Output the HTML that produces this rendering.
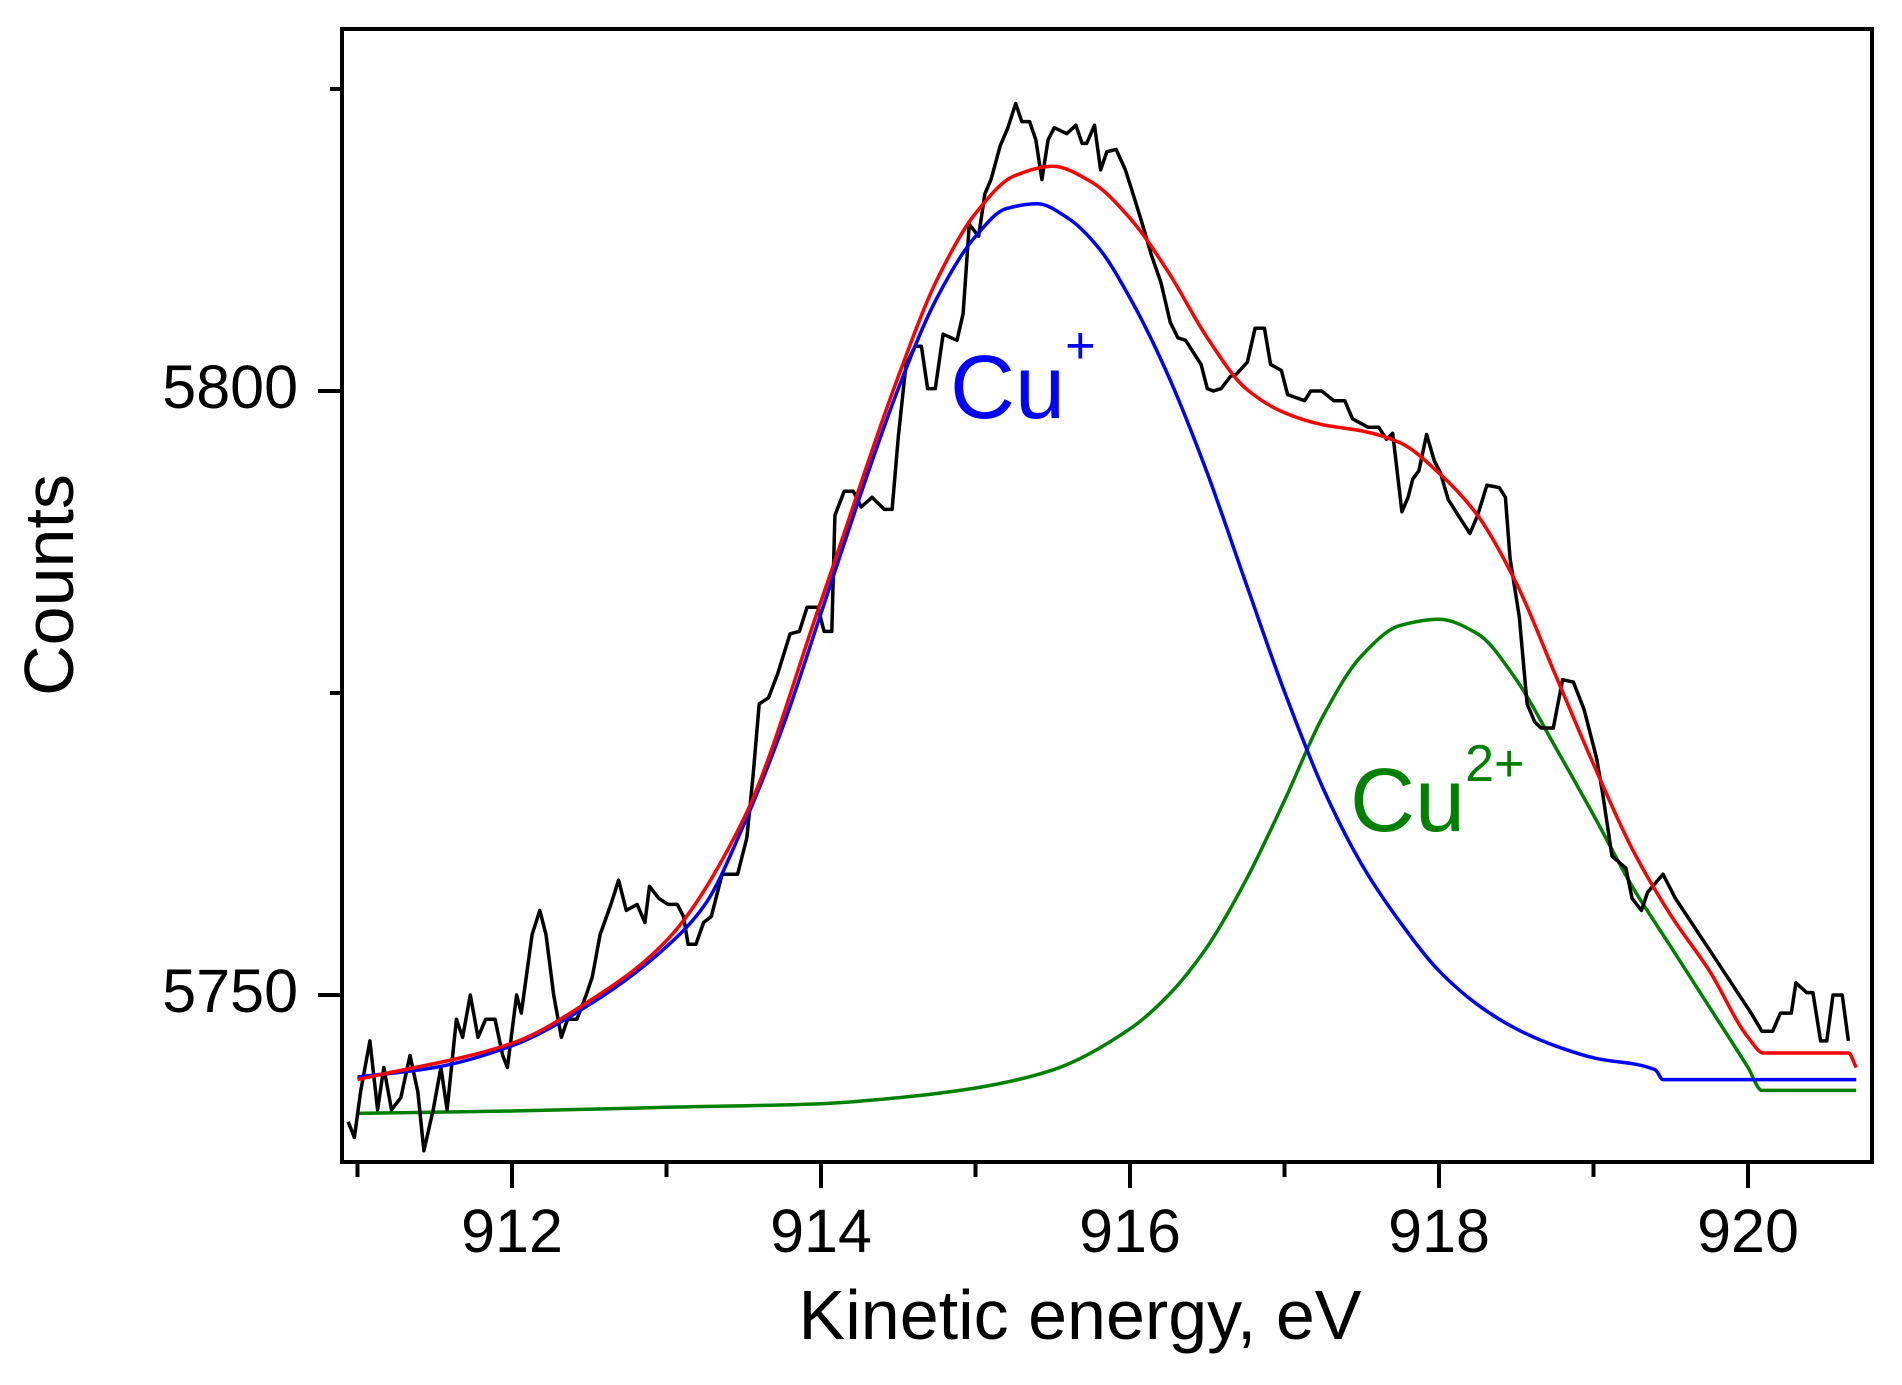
<!DOCTYPE html>
<html><head><meta charset="utf-8"><style>
html,body{margin:0;padding:0;background:#fff;}
svg{display:block;font-family:"Liberation Sans",Arial,sans-serif;}
</style></head><body>
<svg id="chart" width="1902" height="1385" viewBox="0 0 1902 1385">
<defs><clipPath id="plotclip"><rect x="344" y="31" width="1526" height="1129"/></clipPath></defs>
<g id="series" clip-path="url(#plotclip)"></g>
<rect x="342" y="29" width="1530" height="1133" fill="none" stroke="#000" stroke-width="4"/>
<g id="axes"></g>
<text x="49" y="585" font-size="70" text-anchor="middle" transform="rotate(-90 49 585)" dominant-baseline="central">Counts</text>
<text x="1080" y="1339" font-size="70" text-anchor="middle">Kinetic energy, eV</text>
<text x="950" y="418" font-size="90" fill="#0000ff">Cu<tspan font-size="52" dy="-55">+</tspan></text>
<text x="1350" y="831" font-size="90" fill="#008000">Cu<tspan font-size="52" dy="-50">2+</tspan></text>
</svg>
<script>
const xTicks=[912,914,916,918,920];
const xMinor=[911,913,915,917,919];
const yTicks=[5750,5800];
const yMinor=[5775,5825];
const expE=[910.94,910.98,911.02,911.08,911.13,911.17,911.22,911.28,911.34,911.39,911.43,911.49,911.54,911.58,911.64,911.68,911.73,911.78,911.83,911.89,911.94,911.97,912.03,912.06,912.13,912.18,912.22,912.27,912.32,912.36,912.42,912.48,912.52,912.57,912.64,912.69,912.74,912.81,912.86,912.89,912.95,913.01,913.07,913.11,913.14,913.19,913.24,913.29,913.36,913.46,913.52,913.56,913.60,913.66,913.72,913.80,913.86,913.91,913.98,914.02,914.07,914.09,914.15,914.21,914.26,914.33,914.41,914.46,914.50,914.55,914.61,914.65,914.69,914.74,914.79,914.88,914.92,914.96,915.02,915.06,915.10,915.16,915.21,915.26,915.30,915.35,915.39,915.43,915.47,915.51,915.59,915.65,915.69,915.72,915.77,915.81,915.85,915.91,915.97,916.02,916.08,916.14,916.20,916.26,916.31,916.36,916.42,916.46,916.50,916.54,916.59,916.65,916.69,916.76,916.81,916.87,916.91,916.98,917.02,917.13,917.17,917.24,917.32,917.39,917.44,917.54,917.61,917.66,917.70,917.76,917.80,917.83,917.87,917.92,917.97,918.01,918.06,918.11,918.20,918.25,918.31,918.39,918.43,918.46,918.52,918.57,918.62,918.66,918.74,918.80,918.87,918.94,919.02,919.06,919.12,919.21,919.25,919.31,919.35,919.45,919.53,919.84,920.02,920.09,920.16,920.21,920.28,920.31,920.38,920.42,920.47,920.51,920.55,920.61,920.65];
const expC=[5739.5,5738.2,5742.0,5746.2,5740.5,5744.0,5740.5,5741.5,5745.0,5742.0,5737.1,5740.5,5744.0,5740.5,5748.0,5746.5,5750.0,5746.5,5748.0,5748.0,5745.0,5744.0,5750.0,5748.5,5755.0,5757.0,5755.0,5750.0,5746.5,5748.0,5748.0,5750.0,5751.5,5755.0,5757.5,5759.5,5757.0,5757.5,5756.0,5759.0,5758.0,5757.5,5757.5,5756.5,5754.2,5754.2,5756.0,5756.5,5760.0,5760.0,5763.0,5768.1,5774.1,5774.6,5776.6,5779.9,5780.1,5782.1,5782.1,5780.1,5780.1,5789.7,5791.7,5791.7,5790.4,5791.2,5790.2,5790.2,5796.2,5802.2,5803.7,5803.7,5800.2,5800.2,5804.7,5804.2,5806.4,5813.8,5812.8,5816.3,5817.5,5820.3,5821.8,5823.8,5822.3,5822.3,5820.8,5817.5,5820.8,5821.8,5821.3,5822.0,5820.5,5820.5,5822.0,5818.3,5819.8,5820.0,5818.3,5816.3,5813.8,5811.2,5809.0,5805.7,5804.4,5804.2,5803.0,5802.2,5800.2,5800.0,5800.2,5801.2,5801.4,5802.4,5805.2,5805.2,5802.2,5801.7,5799.7,5799.2,5800.0,5800.0,5799.2,5799.2,5797.7,5797.0,5797.0,5796.0,5796.5,5790.0,5791.2,5792.7,5793.4,5796.4,5794.2,5793.2,5791.0,5790.0,5788.2,5789.7,5792.2,5792.0,5791.2,5786.1,5781.3,5774.1,5772.6,5772.1,5772.1,5776.1,5775.9,5773.6,5769.6,5766.6,5761.5,5760.5,5758.0,5757.0,5758.5,5760.0,5758.0,5752.0,5748.5,5747.0,5747.0,5748.5,5748.5,5751.0,5750.2,5750.2,5746.2,5746.2,5750.0,5750.0,5746.2];
const cu1E=[911.0,911.5,912.0,912.5,913.0,913.25,913.5,913.75,914.0,914.25,914.5,914.75,915.0,915.2,915.4,915.6,915.8,916.0,916.25,916.5,916.75,917.0,917.25,917.5,917.75,918.0,918.25,918.5,918.75,919.0,919.4,919.45,920.7];
const cu1C=[5743.2,5744.0,5745.8,5749.2,5754.0,5757.5,5764.1,5772.1,5781.6,5791.2,5800.2,5807.7,5812.8,5815.1,5815.5,5814.3,5811.8,5807.7,5801.2,5793.2,5784.1,5775.1,5767.1,5760.8,5756.0,5752.0,5749.2,5747.2,5745.8,5744.8,5743.8,5743.0,5743.0];
const cu2E=[911.0,912,913,914,914.5,915,915.5,916,916.25,916.5,916.75,917.0,917.25,917.5,917.75,918.0,918.25,918.5,918.75,919.0,919.25,919.5,919.75,920.0,920.09,920.7];
const cu2C=[5740.2,5740.4,5740.7,5741.0,5741.5,5742.3,5743.8,5747.2,5750.0,5754.0,5759.5,5766.1,5773.1,5778.1,5780.6,5781.1,5779.9,5776.1,5770.6,5764.9,5759.0,5754.0,5749.0,5744.0,5742.1,5742.1];
const fitE=[911,912,912.5,913,913.5,914,914.5,914.75,915.0,915.25,915.5,915.75,916.0,916.25,916.5,916.75,917.0,917.25,917.5,917.75,918.0,918.25,918.5,918.75,919.0,919.25,919.5,919.75,920.0,920.1,920.65,920.7];
const fitC=[5743.0,5746.0,5749.5,5754.5,5764.6,5782.6,5801.2,5809.2,5814.7,5817.8,5818.6,5817.3,5814.3,5809.8,5804.4,5800.2,5798.2,5797.2,5796.7,5795.7,5793.2,5789.7,5784.1,5776.6,5769.1,5762.1,5756.6,5752.0,5746.5,5745.2,5745.2,5744.0];

const NS='http://www.w3.org/2000/svg';
function xs(e){return 512+(e-912)*154.5;}
function ys(c){return 391+(5800-c)*12.08;}
function mk(tag,attrs,parent){const el=document.createElementNS(NS,tag);for(const k in attrs)el.setAttribute(k,attrs[k]);parent.appendChild(el);return el;}
const series=document.getElementById('series');
const axes=document.getElementById('axes');
function pathLinear(P){return P.map((p,i)=>(i?'L':'M')+p[0].toFixed(1)+' '+p[1].toFixed(1)).join(' ');}
// monotone cubic (Fritsch-Carlson) – no overshoot
function pathMonotone(P){
  const n=P.length, d=[], m=[];
  for(let i=0;i<n-1;i++) d.push((P[i+1][1]-P[i][1])/(P[i+1][0]-P[i][0]));
  m[0]=d[0]; m[n-1]=d[n-2];
  for(let i=1;i<n-1;i++){
    if(d[i-1]*d[i]<=0) m[i]=0;
    else { const h0=P[i][0]-P[i-1][0], h1=P[i+1][0]-P[i][0];
      const w1=2*h1+h0, w2=h1+2*h0; m[i]=(w1+w2)/(w1/d[i-1]+w2/d[i]); }
  }
  let s='M'+P[0][0].toFixed(1)+' '+P[0][1].toFixed(1);
  for(let i=0;i<n-1;i++){
    const h=(P[i+1][0]-P[i][0])/3;
    s+=' C'+(P[i][0]+h).toFixed(1)+' '+(P[i][1]+m[i]*h).toFixed(1)+' '+(P[i+1][0]-h).toFixed(1)+' '+(P[i+1][1]-m[i+1]*h).toFixed(1)+' '+P[i+1][0].toFixed(1)+' '+P[i+1][1].toFixed(1);
  }
  return s;
}
function line(E,C,color,name,smooth){
  const P=E.map((e,i)=>[xs(e),ys(C[i])]);
  const p=mk('path',{d:smooth?pathMonotone(P):pathLinear(P),fill:'none',stroke:color,'stroke-width':3.5,'stroke-linejoin':'round'},series);
  
  
}
line(cu2E,cu2C,'#008000','cu2-component-line',true);
line(expE,expC,'#000000','experimental-data-line',false);
line(cu1E,cu1C,'#0000ff','cu1-component-line',true);
line(fitE,fitC,'#ff0000','fit-envelope-line',true);

xTicks.forEach(t=>{
  const l=mk('line',{x1:xs(t),x2:xs(t),y1:1162,y2:1188,stroke:'#000','stroke-width':4},axes);
  
  
  const tx=mk('text',{x:xs(t),y:1252,'font-size':61,'text-anchor':'middle'},axes);
  tx.textContent=t;
  
  
});
xMinor.forEach(t=>{
  const l=mk('line',{x1:xs(t),x2:xs(t),y1:1162,y2:1177,stroke:'#000','stroke-width':4},axes);
  
  
});
yTicks.forEach(t=>{
  const l=mk('line',{x1:318,x2:342,y1:ys(t),y2:ys(t),stroke:'#000','stroke-width':4},axes);
  
  
  const tx=mk('text',{x:298,y:ys(t)+17,'font-size':61,'text-anchor':'end'},axes);
  tx.textContent=t;
  
  
});
yMinor.forEach(t=>{
  const l=mk('line',{x1:330,x2:342,y1:ys(t),y2:ys(t),stroke:'#000','stroke-width':4},axes);
  
  
});
</script>
</body></html>
